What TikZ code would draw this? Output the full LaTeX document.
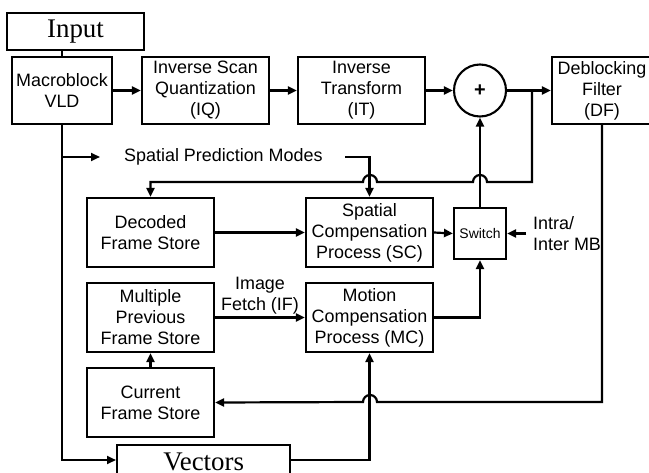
\documentclass[tikz,border=0pt]{standalone}
\usepackage{fontspec}
\setmainfont{Liberation Sans}
\newfontfamily\seriffont{Liberation Serif}
\usetikzlibrary{arrows.meta,calc}
\begin{document}
\begin{tikzpicture}[x=1bp,y=-1bp,
  blk/.style={draw,line width=2.1bp,inner sep=0pt,align=center,
    font=\fontsize{18}{21}\selectfont},
  tbox/.style={draw,line width=2.4bp,inner sep=0pt,
    font=\seriffont\fontsize{27}{30}\selectfont},
  conn/.style={line width=2.2bp},
  arr/.style={conn,-{Triangle[length=9bp,width=8bp]}},
  lbl/.style={font=\fontsize{18}{21}\selectfont,align=left,inner sep=0pt}]
\useasboundingbox[fill=white] (0,0) rectangle (649,473);

\node[tbox,minimum width=137bp,minimum height=37bp] (input) at (75.5,31.5) {Input};
\node[blk,minimum width=100bp,minimum height=67bp] (mb) at (62,90.5) {Macroblock\\VLD};
\node[blk,minimum width=127bp,minimum height=67bp] (iq) at (205.5,90.5) {Inverse Scan\\Quantization\\(IQ)};
\node[blk,minimum width=127bp,minimum height=67bp] (it) at (361.5,90.5) {Inverse\\Transform\\(IT)};
\node[draw,circle,line width=2.1bp,minimum size=52bp,inner sep=0pt,
  font=\fontsize{20}{20}\selectfont\bfseries] (sum) at (480,90.5) {+};
\node[blk,minimum width=100bp,minimum height=67bp] (df) at (602,90.5) {Deblocking\\Filter\\(DF)};
\node[blk,minimum width=127bp,minimum height=69bp] (dfs) at (150.5,232.5) {Decoded\\Frame Store};
\node[blk,minimum width=127bp,minimum height=69bp] (sc) at (369.5,232.5) {Spatial\\Compensation\\Process (SC)};
\node[blk,minimum width=52bp,minimum height=51bp,font=\fontsize{14}{16}\selectfont] (sw) at (480,233.5) {Switch};
\node[blk,minimum width=127bp,minimum height=69bp] (mpfs) at (150.5,317.5) {Multiple\\Previous\\Frame Store};
\node[blk,minimum width=127bp,minimum height=69bp] (mc) at (369.5,317.5) {Motion\\Compensation\\Process (MC)};
\node[blk,minimum width=127bp,minimum height=69bp] (cfs) at (150.5,402.5) {Current\\Frame Store};
\node[tbox,minimum width=173bp,minimum height=34bp,anchor=north west] (vec) at (116,444) {\raisebox{1.5bp}{Vectors}};

\node[lbl,anchor=west] (spm) at (124,157) {Spatial Prediction Modes};
\node[lbl,anchor=west] (imb) at (533,234) {Intra/\\Inter MB};
\node[lbl,align=center] (ifl) at (260,296) {Image\\Fetch (IF)};

% input to macroblock
\draw[conn] (input.south -| mb.north) -- (mb.north);
% main chain
\draw[arr] (mb.east) -- (iq.west);
\draw[arr] (iq.east) -- (it.west);
\draw[arr] (it.east) -- (sum.west);
\draw[arr] (sum.east) -- (df.west);
% feedback to decoded frame store
\coordinate (br) at (532,90.5);
\coordinate (fy) at (532,182);
\draw[arr] (br) -- (fy) -- (487,182) arc[start angle=0,end angle=180,radius=7bp]
  -- (377,182) arc[start angle=0,end angle=180,radius=7bp]
  -- (dfs.north |- fy) -- (dfs.north);
% switch to sum
\draw[arr] (sw.north) -- (sum.south);
% spatial prediction modes
\coordinate (mbj) at (62,157);
\draw[arr] (mbj) -- (100,157);
\coordinate (spe) at (345,157);
\draw[arr] (spe) -- (sc.north |- spe) -- (sc.north);
% decoded to SC, SC to switch
\draw[arr] (dfs.east) -- (sc.west |- dfs.east);
\draw[arr] (sc.east) -- (sw.west);
\draw[arr] (526,233.5) -- (sw.east);
% image fetch
\draw[arr] (mpfs.east) -- (mc.west);
% MC to switch
\draw[arr] (mc.east) -| (sw.south);
% current to multiple previous
\draw[arr] (cfs.north) -- (mpfs.south);
% DF down to current frame store
\coordinate (dfb) at (602,124);
\draw[arr] (dfb) -- (602,402) -- (377,402) arc[start angle=0,end angle=180,radius=7bp]
  -- (cfs.east);
% MB down to vectors
\coordinate (vj) at (62,460);
\draw[arr] (mb.south) -- (vj) -- (vec.west |- vj);
% vectors to MC
\draw[arr] (vec.east |- vj) -- (mc.south |- vj) -- (mc.south);
\end{tikzpicture}
\end{document}
